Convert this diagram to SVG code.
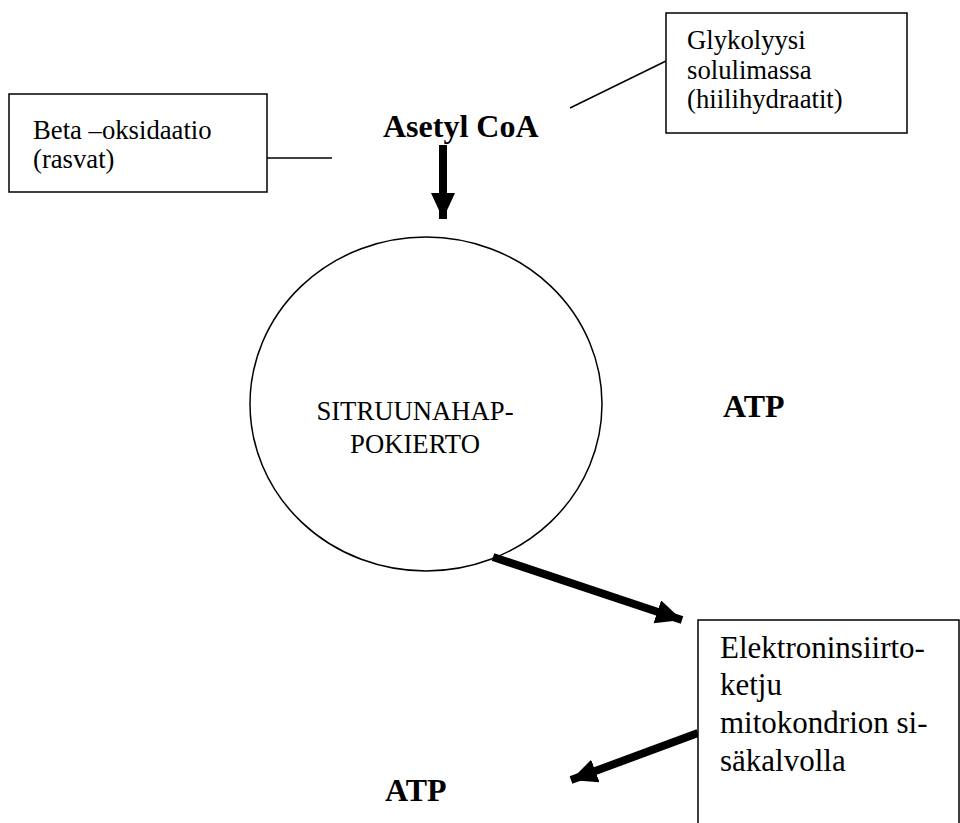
<svg xmlns="http://www.w3.org/2000/svg" width="960" height="823" viewBox="0 0 960 823">
<style>
.box{fill:#fff;stroke:#000;stroke-width:1.5}
.t{font-family:"Liberation Serif","Times New Roman",serif;fill:#000}
.s{font-size:26.7px}
.m{font-size:31px}
.b{font-size:32px;font-weight:bold}
.thin{stroke:#000;stroke-width:1.5;fill:none}
.thick{stroke:#000;stroke-width:8;fill:none}
</style>
<defs>
<marker id="ah" markerUnits="userSpaceOnUse" markerWidth="30" markerHeight="26" refX="26" refY="12" orient="auto" viewBox="0 0 30 26">
<path d="M0,0 L26,12 L0,24 Z" fill="#000"/>
</marker>
</defs>
<rect width="960" height="823" fill="#fff"/>
<g id="connectors">
<line class="thin" x1="267" y1="158" x2="332" y2="158"/>
<line class="thin" x1="570" y1="108" x2="666" y2="61"/>
<line class="thick" x1="443" y1="145" x2="443" y2="219" marker-end="url(#ah)"/>
<line class="thick" x1="493" y1="557" x2="682" y2="620" marker-end="url(#ah)"/>
<line class="thick" x1="698" y1="733" x2="571" y2="780" marker-end="url(#ah)"/>
</g>
<g id="beta">
<rect class="box" x="9" y="94" width="258" height="98"/>
<text class="t s" x="33" y="139">Beta –oksidaatio</text>
<text class="t s" x="33" y="168">(rasvat)</text>
</g>
<g id="asetyl">
<text class="t b" x="383" y="137">Asetyl CoA</text>
</g>
<g id="glykolyysi">
<rect class="box" x="666" y="13" width="241" height="120"/>
<text class="t s" x="687" y="49">Glykolyysi</text>
<text class="t s" x="687" y="79">solulimassa</text>
<text class="t s" x="687" y="108">(hiilihydraatit)</text>
</g>
<g id="sitruuna">
<ellipse class="thin" cx="426" cy="404" rx="176" ry="167"/>
<text class="t s" x="415" y="420" text-anchor="middle">SITRUUNAHAP-</text>
<text class="t s" x="415" y="453" text-anchor="middle">POKIERTO</text>
</g>
<g id="atp1">
<text class="t b" x="723" y="417">ATP</text>
</g>
<g id="elektron">
<rect class="box" x="698" y="620" width="261" height="220"/>
<text class="t m" x="720" y="658">Elektroninsiirto-</text>
<text class="t m" x="720" y="695">ketju</text>
<text class="t m" x="720" y="733">mitokondrion si-</text>
<text class="t m" x="720" y="771">säkalvolla</text>
</g>
<g id="atp2">
<text class="t b" x="385" y="801">ATP</text>
</g>
</svg>
